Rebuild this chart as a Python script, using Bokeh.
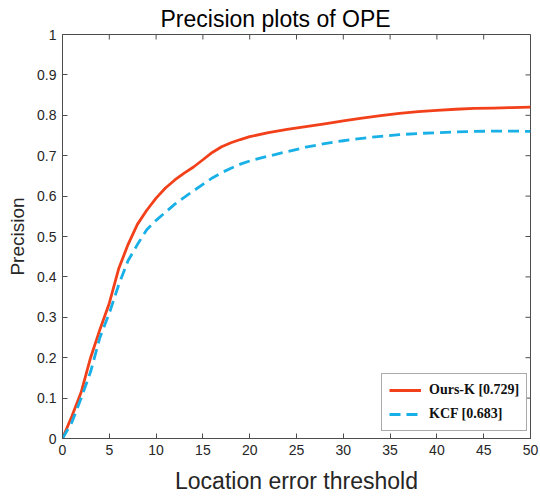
import math

from bokeh.plotting import figure
from bokeh.models import Range1d, FixedTicker, Legend, LegendItem, Title
from bokeh.embed import file_html
from bokeh.resources import INLINE

# Location error thresholds (pixels) and precision values per tracker
thresholds = [0, 1, 2, 3, 4, 5, 6, 7, 8, 9, 10, 11, 12, 13, 14, 15, 16, 17, 18, 19, 20,
              22, 24, 26, 28, 30, 32, 34, 36, 38, 40, 42, 44, 46, 48, 50]
ours_k = [0.0, 0.055, 0.115, 0.2, 0.27, 0.335, 0.42, 0.48, 0.53, 0.565, 0.595, 0.62,
          0.64, 0.657, 0.672, 0.69, 0.708, 0.722, 0.732, 0.74, 0.747,
          0.757, 0.765, 0.772, 0.779, 0.786, 0.793, 0.799, 0.805, 0.809, 0.812,
          0.815, 0.817, 0.818, 0.819, 0.82]
kcf = [0.0, 0.04, 0.1, 0.165, 0.25, 0.31, 0.38, 0.44, 0.48, 0.517, 0.54, 0.56,
       0.58, 0.597, 0.613, 0.629, 0.645, 0.658, 0.669, 0.679, 0.687,
       0.699, 0.71, 0.721, 0.73, 0.737, 0.743, 0.748, 0.752, 0.755, 0.757,
       0.759, 0.76, 0.761, 0.761, 0.76]

series_names = ["Ours-K [0.729]", "KCF [0.683]"]

x_ticks = [0, 5, 10, 15, 20, 25, 30, 35, 40, 45, 50]
y_ticks = [0, 0.1, 0.2, 0.3, 0.4, 0.5, 0.6, 0.7, 0.8, 0.9, 1]
y_tick_labels = ["0", "0.1", "0.2", "0.3", "0.4", "0.5", "0.6", "0.7", "0.8", "0.9", "1"]

SANS = "Liberation Sans"
AXIS_COLOR = "#4d4d4d"
TEXT_COLOR = "#262626"
TICK_LEN = 5

p = figure(width=540, height=496, output_backend="svg", toolbar_location=None,
           x_range=Range1d(0, 50), y_range=Range1d(0, 1),
           min_border_left=62, min_border_right=10, min_border_top=34,
           min_border_bottom=56, background_fill_color="white",
           border_fill_color="white", outline_line_color=AXIS_COLOR)
p.xgrid.visible = False
p.ygrid.visible = False

title = Title(text="Precision plots of OPE", align="left", offset=98,
              text_font=SANS, text_font_size="23px", text_font_style="normal",
              text_color="black", standoff=5)
p.add_layout(title, "above")


def style_axis(ax):
    ax.axis_line_color = AXIS_COLOR
    ax.major_tick_line_color = AXIS_COLOR
    ax.major_tick_in = TICK_LEN
    ax.major_tick_out = 0
    ax.minor_tick_line_color = None
    ax.major_label_text_font = SANS
    ax.major_label_text_color = TEXT_COLOR
    ax.major_label_text_font_size = "14px"
    ax.major_label_standoff = 6
    ax.axis_label_text_font = SANS
    ax.axis_label_text_font_style = "normal"
    ax.axis_label_text_color = TEXT_COLOR


xa = p.xaxis[0]
style_axis(xa)
xa.ticker = FixedTicker(ticks=x_ticks)
xa.axis_label = "Location error threshold"
xa.axis_label_text_font_size = "23px"
xa.axis_label_standoff = 10

ya = p.yaxis[0]
style_axis(ya)
ya.ticker = FixedTicker(ticks=y_ticks)
ya.major_label_overrides = {t: s for t, s in zip(y_ticks, y_tick_labels)}
ya.axis_label = "Precision"
ya.axis_label_text_font_size = "19px"
ya.axis_label_standoff = 6

# Inward ticks on the top and right edges of the box
p.ray(x=x_ticks, y=p.y_range.end, length=TICK_LEN, length_units="screen",
      angle=-math.pi / 2, line_color=AXIS_COLOR, line_width=1)
p.ray(x=p.x_range.end, y=y_ticks, length=TICK_LEN, length_units="screen",
      angle=math.pi, line_color=AXIS_COLOR, line_width=1)

r_ours = p.line(thresholds, ours_k, line_color="#f2401b", line_width=2.8)
r_kcf = p.line(thresholds, kcf, line_color="#18b0e6", line_width=2.8,
               line_dash="11 6")

legend = Legend(items=[LegendItem(label=series_names[0], renderers=[r_ours]),
                       LegendItem(label=series_names[1], renderers=[r_kcf])],
                location=(319, 7), orientation="vertical",
                label_text_font="Liberation Serif", label_text_font_style="bold",
                label_text_font_size="14px", label_text_color="#111111",
                glyph_width=32, glyph_height=18, label_height=18, label_standoff=8,
                spacing=6, padding=7, margin=0,
                border_line_color="#555555", border_line_width=1,
                background_fill_color="white", background_fill_alpha=1)
p.add_layout(legend, "center")

open("out.html", "w").write(file_html(p, INLINE))
